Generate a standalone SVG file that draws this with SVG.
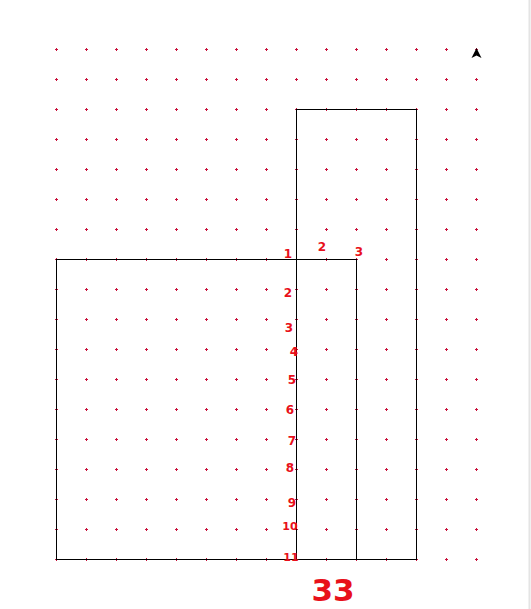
<svg xmlns="http://www.w3.org/2000/svg" width="531" height="609" viewBox="0 0 531 609">
<defs>
<pattern id="dots" x="41" y="34" width="30" height="30" patternUnits="userSpaceOnUse">
<path d="M14 15.5H17M15.5 14V17" stroke="#c8103a" stroke-width="1" fill="none"/>
</pattern>
</defs>
<style>
.shape{fill:none;stroke:#000;stroke-width:1}
.hw{fill:#e8101a;font-family:"DejaVu Sans",sans-serif;font-weight:bold;text-anchor:middle}
</style>
<rect width="531" height="609" fill="#fff"/>
<line x1="529.5" y1="0" x2="529.5" y2="609" stroke="#e4e4e4" stroke-width="2"/>
<rect x="41" y="34" width="450" height="540" fill="url(#dots)"/>
<g id="shapes">
<g id="rect-left"><rect class="shape" x="56.5" y="259.5" width="300" height="300"/></g>
<g id="rect-right"><rect class="shape" x="296.5" y="109.5" width="120" height="450"/></g>
<g id="north-arrow"><path d="M476.5 48 L481.5 58 L476.5 55.5 L471.5 58 Z" fill="#000"/></g>
</g>
<g id="labels">
<text class="hw" x="288" y="258" font-size="12">1</text>
<text class="hw" x="322" y="251" font-size="12">2</text>
<text class="hw" x="359" y="256" font-size="12">3</text>
<text class="hw" x="288" y="297" font-size="12">2</text>
<text class="hw" x="289" y="332" font-size="12">3</text>
<text class="hw" x="294" y="356" font-size="12">4</text>
<text class="hw" x="292" y="384" font-size="12">5</text>
<text class="hw" x="290" y="414" font-size="12">6</text>
<text class="hw" x="292" y="445" font-size="12">7</text>
<text class="hw" x="290" y="472" font-size="12">8</text>
<text class="hw" x="292" y="507" font-size="12">9</text>
<text class="hw" x="290" y="530" font-size="11">10</text>
<text class="hw" x="291" y="561" font-size="11">11</text>
<text class="hw" x="333" y="601" font-size="31" font-weight="normal">33</text>
</g>
</svg>
